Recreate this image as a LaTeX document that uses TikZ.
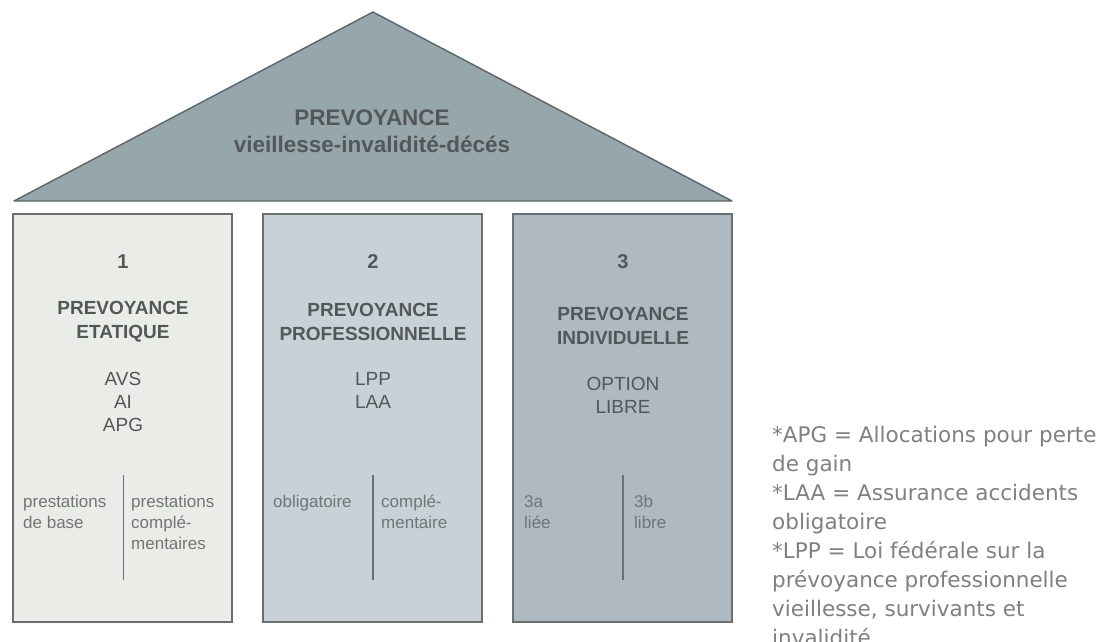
\documentclass[tikz,border=0pt]{standalone}
\usepackage{fontspec}
\setmainfont{Liberation Sans}
\newfontfamily\notefont{DejaVu Sans}
\definecolor{roofgray}{RGB}{151,166,171}
\definecolor{roofline}{RGB}{92,101,105}
\definecolor{pillarA}{RGB}{234,237,231}
\definecolor{pillarB}{RGB}{201,209,214}
\definecolor{pillarC}{RGB}{174,185,193}
\definecolor{pillarline}{RGB}{105,110,112}
\definecolor{textdark}{RGB}{82,87,90}
\definecolor{textsmall}{RGB}{112,117,119}
\definecolor{notegray}{RGB}{128,128,128}
\begin{document}
\begin{tikzpicture}[x=1pt,y=-1pt,
  pillar/.style={draw=pillarline,line width=1.6pt},
  divider/.style={draw=pillarline,line width=1.8pt},
  num/.style={text=textdark,font=\bfseries\fontsize{20}{24}\selectfont},
  title/.style={text=textdark,align=center,font=\bfseries\fontsize{19}{24}\selectfont},
  law/.style={text=textdark,align=center,font=\fontsize{19}{23}\selectfont},
  sub/.style={text=textsmall,align=left,anchor=north west,inner sep=0pt,font=\fontsize{17}{21}\selectfont}]
\useasboundingbox (0,0) rectangle (1106,642);
\clip (0,0) rectangle (1106,642);
\draw[fill=roofgray,draw=roofline,line width=1.4pt,line join=round] (14,201) -- (373,12) -- (732,201) -- cycle;
\node[text=textdark,align=center,font=\bfseries\fontsize{22.5}{27}\selectfont] (roof) at (372,131) {PREVOYANCE\\vieillesse-invalidité-décés};
\draw[pillar,fill=pillarA] (13,214) rectangle (232,622);
\draw[pillar,fill=pillarB] (263,214) rectangle (482,622);
\draw[pillar,fill=pillarC] (513,214) rectangle (732,622);
\node[num] (num1) at (123,262) {1};
\node[num] (num2) at (373,262) {2};
\node[num] (num3) at (623,262) {3};
\node[title] (etat) at (123,321.5) {PREVOYANCE\\ETATIQUE};
\node[title] (prof) at (373,321.5) {PREVOYANCE\\PROFESSIONNELLE};
\node[title] (indiv) at (623,326) {PREVOYANCE\\INDIVIDUELLE};
\node[law] (avs) at (123,402) {AVS\\AI\\APG};
\node[law] (lpp) at (373,390.5) {LPP\\LAA};
\node[law] (option) at (623,395.5) {OPTION\\LIBRE};
\draw[divider] (123.5,475) -- (123.5,580);
\draw[divider] (373,475) -- (373,580);
\draw[divider] (623,475) -- (623,580);
\node[sub] (base) at (23,495) {prestations\\de base};
\node[sub] (compl) at (131,495) {prestations\\complé-\\mentaires};
\node[sub] (oblig) at (273,495) {obligatoire};
\node[sub] (compl2) at (381,495) {complé-\\mentaire};
\node[sub] (liee) at (524,495) {3a\\liée};
\node[sub] (libre) at (634,495) {3b\\libre};
\node[text=notegray,align=left,anchor=north west,inner sep=0pt,font=\notefont\fontsize{21.5}{29}\selectfont] (notes) at (772,426) {*APG = Allocations pour perte\\de gain\\*LAA = Assurance accidents\\obligatoire\\*LPP = Loi fédérale sur la\\prévoyance professionnelle\\vieillesse, survivants et\\invalidité};
\end{tikzpicture}
\end{document}
